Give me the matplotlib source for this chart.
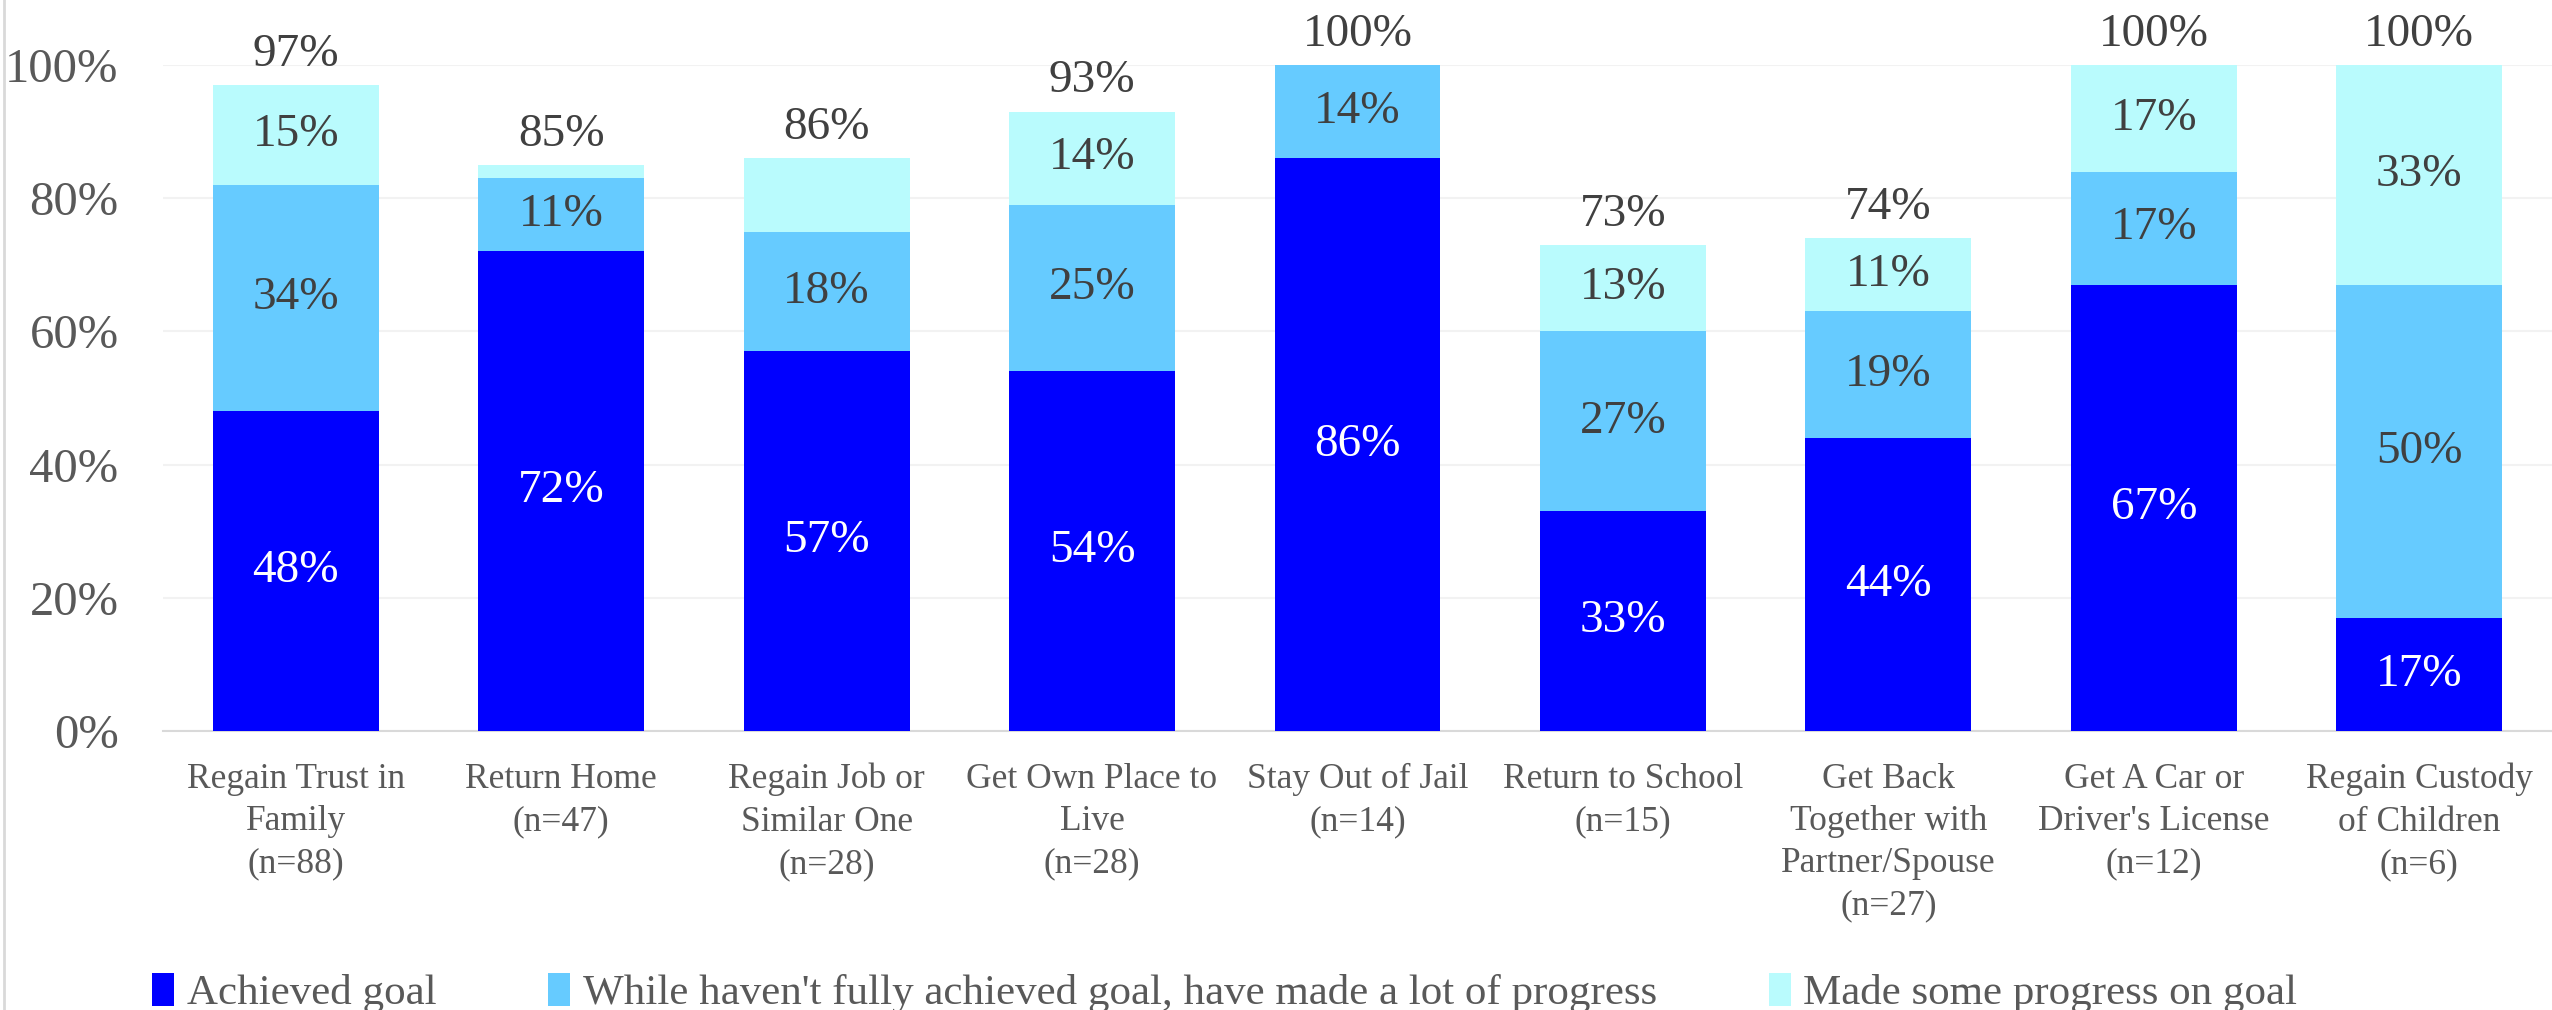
import numpy as np
import matplotlib
matplotlib.use("Agg")
import matplotlib.pyplot as plt
from matplotlib.lines import Line2D

# data
categories = ["Regain Trust in\nFamily\n(n=88)", "Return Home\n(n=47)",
              "Regain Job or\nSimilar One\n(n=28)", "Get Own Place to\nLive\n(n=28)",
              "Stay Out of Jail\n(n=14)", "Return to School\n(n=15)",
              "Get Back\nTogether with\nPartner/Spouse\n(n=27)",
              "Get A Car or\nDriver's License\n(n=12)", "Regain Custody\nof Children\n(n=6)"]
achieved = [48, 72, 57, 54, 86, 33, 44, 67, 17]
lot_progress = [34, 11, 18, 25, 14, 27, 19, 17, 50]
some_progress = [15, 2, 11, 14, 0, 13, 11, 17, 33]
totals = [97, 85, 86, 93, 100, 73, 74, 100, 100]
# labels actually printed in the segments ('' = not shown)
achieved_lbl = ["48%", "72%", "57%", "54%", "86%", "33%", "44%", "67%", "17%"]
lot_lbl = ["34%", "11%", "18%", "25%", "14%", "27%", "19%", "17%", "50%"]
some_lbl = ["15%", "", "", "14%", "", "13%", "11%", "17%", "33%"]
series_names = ["Achieved goal",
                "While haven't fully achieved goal, have made a lot of progress",
                "Made some progress on goal"]
colors = ["#0000FF", "#66CBFF", "#B9FBFD"]

plt.rcParams['font.family'] = ['Liberation Serif', 'DejaVu Serif']

fig = plt.figure(figsize=(25.52, 10.10), dpi=100)
ax = fig.add_axes([163 / 2552, 1 - 731 / 1010, 1 - 163 / 2552, 666 / 1010])

x = np.arange(len(categories))
a = np.array(achieved) / 100
l = np.array(lot_progress) / 100
s = np.array(some_progress) / 100
w = 0.625

b1 = ax.bar(x, a, w, color=colors[0], label=series_names[0], zorder=3)
b2 = ax.bar(x, l, w, bottom=a, color=colors[1], label=series_names[1], zorder=3)
b3 = ax.bar(x, s, w, bottom=a + l, color=colors[2], label=series_names[2], zorder=3)

ax.bar_label(b1, labels=achieved_lbl, label_type='center', color='white', fontsize=34)
ax.bar_label(b2, labels=lot_lbl, label_type='center', color='#404040', fontsize=34)
ax.bar_label(b3, labels=some_lbl, label_type='center', color='#404040', fontsize=34)

for i, t in enumerate(totals):
    ax.annotate(f"{t}%", (x[i], t / 100), xytext=(0, 22), textcoords='offset points',
                ha='center', va='center', fontsize=34, color='#404040', annotation_clip=False)

ax.set_xlim(-0.5, len(categories) - 0.5)
ax.set_ylim(0, 1)
ax.set_yticks(np.arange(0, 1.01, 0.2))
ax.set_yticklabels([f"{int(round(v * 100))}%" for v in np.arange(0, 1.01, 0.2)])
ax.set_xticks(x)
ax.set_xticklabels(categories, linespacing=1.37)
ax.tick_params(axis='y', length=0, pad=32, labelsize=35, labelcolor='#595959')
ax.tick_params(axis='x', length=0, pad=23, labelsize=25.5, labelcolor='#595959')

ax.grid(axis='y', color='#F2F2F2', linewidth=1.5, zorder=0)
for side in ['top', 'right', 'left']:
    ax.spines[side].set_visible(False)
ax.spines['bottom'].set_color('#D9D9D9')
ax.spines['bottom'].set_linewidth(1.5)

fig.legend(loc='center', bbox_to_anchor=(0.48, 1 - 993 / 1010), ncol=3, frameon=False,
           fontsize=31, labelcolor='#595959', handlelength=0.5, handleheight=0.8,
           handletextpad=0.3, columnspacing=2.6)

# thin frame line on the left edge
fig.add_artist(Line2D([0.0015, 0.0015], [0, 1], color='#D9D9D9', linewidth=2))

fig.savefig("out.png", dpi=100)
